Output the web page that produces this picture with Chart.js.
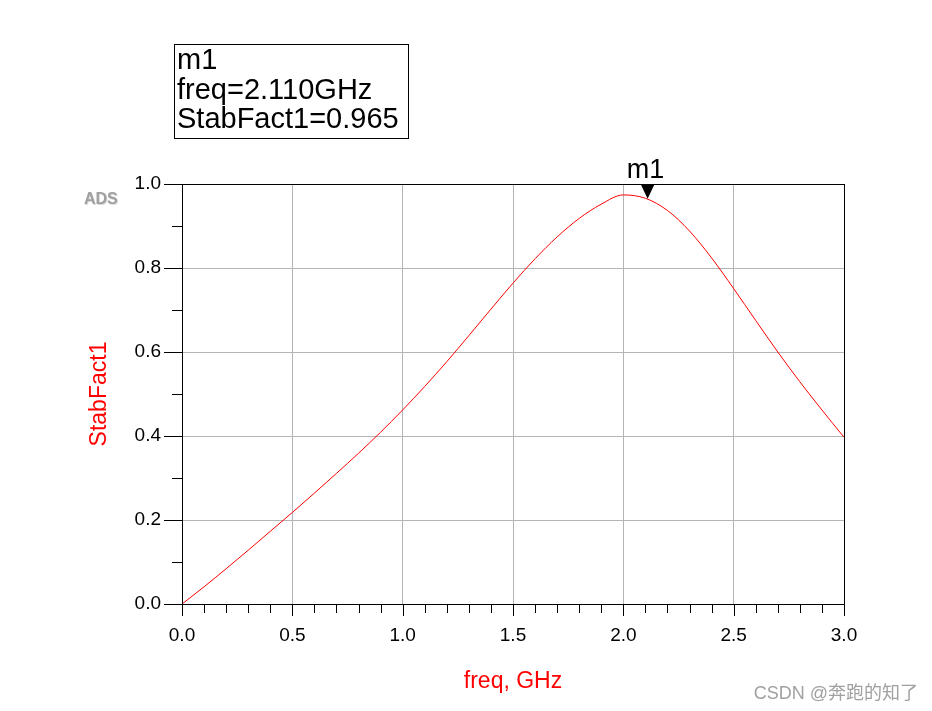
<!DOCTYPE html>
<html>
<head>
<meta charset="utf-8">
<script src="https://cdn.jsdelivr.net/npm/chart.js@4.4.1/dist/chart.umd.min.js"></script>
<style>
  html, body { margin: 0; padding: 0; background: #fff; }
  #wrap { width: 932px; height: 711px; position: relative; }
</style>
</head>
<body>
<div id="wrap"><canvas id="chart" width="932" height="711"></canvas></div>
<script>
// StabFact1 vs frequency
const freqGHz = [0.0, 0.1, 0.2, 0.3, 0.4, 0.5, 0.6, 0.7, 0.8, 0.9, 1.0,
                 1.1, 1.2, 1.3, 1.4, 1.5, 1.6, 1.7, 1.8, 1.9, 2.0,
                 2.1, 2.2, 2.3, 2.4, 2.5, 2.6, 2.7, 2.8, 2.9, 3.0];
const stabFact1 = [0.000, 0.041, 0.084, 0.128, 0.173, 0.218, 0.264, 0.311, 0.359, 0.409, 0.462,
                   0.518, 0.577, 0.639, 0.702, 0.764, 0.822, 0.874, 0.918, 0.952, 0.974,
                   0.966, 0.937, 0.888, 0.824, 0.751, 0.675, 0.600, 0.529, 0.462, 0.397];

// marker m1
const markerName = "m1";
const markerFreq = 2.110;
const markerValue = 0.965;

const xTicksMajor = [0.0, 0.5, 1.0, 1.5, 2.0, 2.5, 3.0];
const yTicksMajor = [0.0, 0.2, 0.4, 0.6, 0.8, 1.0];

const FONT = "'Liberation Sans', Arial, sans-serif";

// frame, minor/major ticks, marker, annotations
const adsDecor = {
  id: "adsDecor",
  afterDraw(chart) {
    const { ctx, chartArea: a, scales } = chart;
    const xs = scales.x, ys = scales.y;
    ctx.save();

    // plot frame
    ctx.strokeStyle = "#000";
    ctx.lineWidth = 1;
    ctx.strokeRect(Math.round(a.left) + 0.5, Math.round(a.top) + 0.5,
                   Math.round(a.right - a.left), Math.round(a.bottom - a.top));

    // x ticks (outside, below)
    ctx.beginPath();
    for (let i = 0; i <= 30; i++) {
      const px = Math.round(xs.getPixelForValue(i / 10)) + 0.5;
      const len = i % 5 === 0 ? 12 : 9;
      ctx.moveTo(px, a.bottom);
      ctx.lineTo(px, a.bottom + len);
    }
    // y ticks (outside, left)
    for (let i = 0; i <= 10; i++) {
      const py = Math.round(ys.getPixelForValue(i / 10)) + 0.5;
      const len = i % 2 === 0 ? 18 : 10;
      ctx.moveTo(a.left, py);
      ctx.lineTo(a.left - len, py);
    }
    ctx.stroke();

    // marker triangle, apex on the trace
    const mx = xs.getPixelForValue(markerFreq);
    const my = ys.getPixelForValue(markerValue);
    ctx.fillStyle = "#000";
    ctx.beginPath();
    ctx.moveTo(mx, my);
    ctx.lineTo(mx - 7, a.top);
    ctx.lineTo(mx + 7, a.top);
    ctx.closePath();
    ctx.fill();

    ctx.font = "27px " + FONT;
    ctx.textAlign = "center";
    ctx.textBaseline = "alphabetic";
    ctx.fillText(markerName, mx - 2, a.top - 6);

    // marker readout box
    ctx.strokeRect(174.5, 44.5, 234, 94);
    ctx.font = "29px " + FONT;
    ctx.textAlign = "left";
    ctx.fillText(markerName, 177, 69);
    ctx.fillText("freq=" + markerFreq.toFixed(3) + "GHz", 177, 99);
    ctx.fillText("StabFact1=" + markerValue.toFixed(3), 177, 128);

    // ADS logo
    ctx.font = "bold 16px " + FONT;
    ctx.fillStyle = "#d8d8d8";
    ctx.fillText("ADS", 85, 205);
    ctx.fillStyle = "#a0a0a0";
    ctx.fillText("ADS", 84, 204);

    // watermark
    ctx.font = "18px " + FONT + ", 'Noto Sans CJK SC'";
    ctx.fillStyle = "#a0a0a0";
    ctx.textAlign = "right";
    ctx.fillText("CSDN @奔跑的知了", 918, 699);

    ctx.restore();
  }
};

new Chart(document.getElementById("chart"), {
  type: "line",
  data: {
    datasets: [{
      label: "StabFact1",
      data: freqGHz.map((f, i) => ({ x: f, y: stabFact1[i] })),
      borderColor: "#ff0000",
      borderWidth: 1,
      pointRadius: 0,
      cubicInterpolationMode: "monotone",
      fill: false,
    }],
  },
  options: {
    responsive: false,
    animation: false,
    layout: { padding: { left: 0, right: 88, top: 184, bottom: 0 } },
    plugins: { legend: { display: false }, tooltip: { enabled: false } },
    scales: {
      x: {
        type: "linear",
        min: 0, max: 3,
        afterFit: (s) => { s.height = 107; },
        afterBuildTicks: (s) => { s.ticks = xTicksMajor.map((v) => ({ value: v })); },
        ticks: {
          padding: 20,
          color: "#000",
          font: { family: FONT, size: 19 },
          callback: (v) => Number(v).toFixed(1),
        },
        grid: { color: "#b4b4b4", lineWidth: 1, drawTicks: false },
        border: { display: false },
        title: {
          display: true,
          text: "freq, GHz",
          color: "#ff0000",
          font: { family: FONT, size: 23 },
          padding: { top: 0, bottom: 16 },
        },
      },
      y: {
        type: "linear",
        min: 0, max: 1,
        afterFit: (s) => { s.width = 182; },
        afterBuildTicks: (s) => { s.ticks = yTicksMajor.map((v) => ({ value: v })); },
        ticks: {
          padding: 21,
          color: "#000",
          font: { family: FONT, size: 19 },
          callback: (v) => Number(v).toFixed(1),
        },
        grid: { color: "#b4b4b4", lineWidth: 1, drawTicks: false },
        border: { display: false },
        title: {
          display: true,
          text: "StabFact1",
          color: "#ff0000",
          font: { family: FONT, size: 23 },
          padding: { top: 86, bottom: 0 },
        },
      },
    },
  },
  plugins: [adsDecor],
});
</script>
</body>
</html>
